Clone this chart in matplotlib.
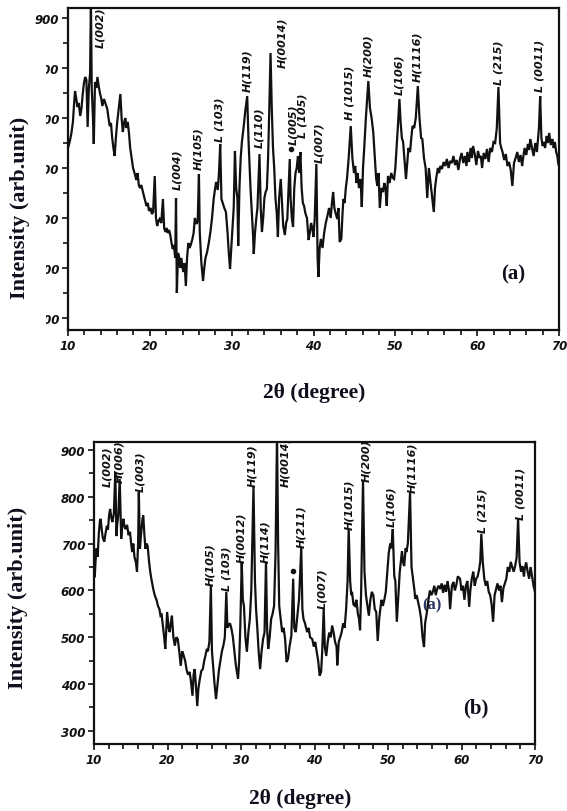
import matplotlib
matplotlib.use("Agg")
import matplotlib.pyplot as plt
from matplotlib.ticker import MultipleLocator, FixedLocator
from matplotlib.patches import Rectangle

# ---------------- panel (a) pattern ----------------
two_theta_a = [
    10.0, 10.2, 10.4, 10.6, 10.75, 10.86, 11.0, 11.15, 11.3, 11.5, 11.65, 11.8, 11.95,
    12.1, 12.25, 12.4, 12.55, 12.7, 12.8, 12.9, 13.05, 13.15, 13.3, 13.45, 13.6, 13.75,
    13.9, 14.05, 14.2, 14.4, 14.6, 14.8, 14.95, 15.1, 15.25, 15.4, 15.55, 15.7, 15.85,
    16.0, 16.2, 16.4, 16.55, 16.7, 16.85, 17.0, 17.15, 17.3, 17.45, 17.6, 17.8, 17.95,
    18.1, 18.2, 18.35, 18.5, 18.65, 18.8, 18.95, 19.1, 19.25, 19.4, 19.6, 19.75, 19.9,
    20.1, 20.25, 20.4, 20.6, 20.75, 20.9, 21.05, 21.2, 21.4, 21.6, 21.75, 21.9, 22.05,
    22.2, 22.35, 22.5, 22.65, 22.8, 22.95, 23.1, 23.2, 23.3, 23.45, 23.6, 23.7, 23.85,
    24.0, 24.1, 24.25, 24.4, 24.55, 24.7, 24.85, 25.0, 25.2, 25.35, 25.5, 25.7, 25.85,
    26.0, 26.1, 26.3, 26.5, 26.65, 26.8, 27.0, 27.2, 27.4, 27.6, 27.8, 27.95, 28.1,
    28.3, 28.45, 28.6, 28.75, 28.9, 29.1, 29.3, 29.5, 29.65, 29.8, 29.95, 30.1, 30.25,
    30.4, 30.55, 30.7, 30.8, 30.95, 31.1, 31.25, 31.45, 31.65, 31.9, 32.05, 32.15, 32.3,
    32.5, 32.6, 32.7, 32.85, 33.0, 33.15, 33.4, 33.55, 33.7, 33.85, 34.0, 34.15, 34.3,
    34.45, 34.6, 34.75, 34.9, 35.05, 35.2, 35.35, 35.5, 35.65, 35.8, 36.0, 36.15, 36.3,
    36.5, 36.65, 36.8, 36.95, 37.1, 37.2, 37.35, 37.5, 37.65, 37.8, 37.95, 38.1, 38.25,
    38.4, 38.55, 38.7, 38.85, 39.0, 39.2, 39.4, 39.55, 39.7, 39.85, 40.0, 40.15, 40.35,
    40.5, 40.6, 40.75, 40.9, 41.1, 41.3, 41.5, 41.7, 41.9, 42.1, 42.25, 42.4, 42.55,
    42.7, 42.9, 43.05, 43.2, 43.4, 43.55, 43.65, 43.8, 43.95, 44.1, 44.3, 44.55, 44.75,
    44.95, 45.1, 45.25, 45.4, 45.55, 45.75, 45.9, 46.05, 46.2, 46.4, 46.7, 46.9, 47.1,
    47.3, 47.5, 47.65, 47.8, 47.95, 48.1, 48.3, 48.5, 48.65, 48.8, 48.95, 49.1, 49.3,
    49.5, 49.7, 49.85, 50.0, 50.15, 50.3, 50.5, 50.65, 50.8, 50.95, 51.1, 51.3, 51.45,
    51.6, 51.8, 51.95, 52.1, 52.3, 52.5, 52.75, 52.95, 53.15, 53.3, 53.5, 53.7, 53.9,
    54.1, 54.3, 54.5, 54.7, 54.85, 55.0, 55.2, 55.35, 55.5, 55.7, 55.9, 56.1, 56.3,
    56.5, 56.7, 56.9, 57.1, 57.3, 57.5, 57.7, 57.9, 58.1, 58.3, 58.5, 58.7, 58.8,
    59.0, 59.2, 59.35, 59.5, 59.7, 59.9, 60.1, 60.3, 60.45, 60.6, 60.8, 61.0, 61.2,
    61.4, 61.6, 61.8, 62.0, 62.2, 62.4, 62.6, 62.8, 62.95, 63.1, 63.3, 63.5, 63.7,
    63.9, 64.1, 64.3, 64.5, 64.7, 64.9, 65.1, 65.3, 65.5, 65.6, 65.8, 66.0, 66.2,
    66.35, 66.5, 66.7, 66.9, 67.1, 67.3, 67.55, 67.7, 67.85, 68.0, 68.15, 68.3, 68.5,
    68.65, 68.8, 69.0, 69.2, 69.35, 69.5, 69.65, 69.8, 69.9, 70.0,
]
intensity_a = [
    640, 652, 668, 692, 730, 754, 740, 722, 730, 704, 720, 748, 770,
    782, 776, 682, 760, 790, 935, 760, 700, 648, 772, 760, 782, 764,
    750, 740, 724, 738, 728, 718, 700, 684, 690, 660, 640, 624, 660,
    690, 720, 748, 700, 672, 690, 700, 680, 692, 670, 640, 618, 600,
    592, 586, 576, 590, 566, 560, 566, 556, 546, 536, 524, 530, 514,
    520, 508, 512, 584, 500, 484, 494, 498, 490, 538, 480, 472, 480,
    470, 476, 466, 450, 438, 446, 420, 540, 350, 430, 420, 400, 420,
    400, 392, 410, 364, 420, 450, 440, 446, 458, 470, 500, 488, 494,
    588, 472, 410, 374, 400, 420, 432, 450, 472, 500, 538, 556, 572,
    556, 590, 648, 538, 530, 520, 512, 470, 430, 398, 440, 480, 520,
    634, 560, 540, 444, 560, 620, 652, 680, 712, 744, 660, 618, 560,
    498, 470, 428, 470, 498, 520, 628, 520, 472, 500, 540, 552, 558,
    620, 720, 830, 720, 640, 600, 540, 512, 462, 540, 578, 530, 484,
    466, 490, 498, 560, 618, 540, 500, 482, 560, 590, 600, 624, 590,
    632, 560, 530, 524, 510, 500, 456, 470, 490, 480, 462, 500, 608,
    420, 382, 440, 458, 440, 470, 490, 504, 520, 500, 530, 552, 520,
    510, 498, 520, 452, 458, 510, 538, 530, 560, 580, 620, 684, 620,
    590, 604, 570, 590, 560, 578, 522, 600, 640, 700, 774, 720, 700,
    672, 620, 580, 564, 590, 520, 560, 552, 570, 560, 524, 584, 570,
    590, 580, 578, 600, 640, 680, 738, 690, 660, 652, 620, 578, 610,
    640, 632, 660, 684, 680, 700, 764, 700, 660, 658, 620, 600, 540,
    600, 570, 540, 512, 560, 580, 600, 590, 604, 598, 612, 604, 618,
    600, 614, 610, 624, 606, 616, 596, 618, 630, 610, 624, 604, 632,
    612, 640, 620, 644, 628, 606, 634, 620, 624, 600, 630, 618, 638,
    612, 640, 632, 652, 650, 680, 762, 650, 640, 632, 616, 628, 604,
    612, 596, 564, 610, 620, 632, 612, 626, 604, 618, 640, 626, 648,
    636, 658, 640, 624, 650, 632, 680, 744, 660, 644, 652, 640, 664,
    650, 670, 646, 658, 640, 652, 632, 624, 610, 604,
]

# reflections of panel (a): text, 2-theta of label, intensity at label foot
labels_a = ["L(002)", "L(004)", "H(105)", "L (103)", "H(119)", "L(110)", "H(0014)",
            "L(005)", "L (105)", "L(007)", "H (1015)", "H(200)", "L(106)", "H(1116)",
            "L (215)", "L (0011)"]
label_x_a = [13.9, 23.3, 25.9, 28.5, 31.9, 33.35, 36.2, 37.5, 38.7, 40.7, 44.35,
             46.7, 50.5, 52.65, 62.6, 67.6]
label_y_a = [842, 558, 598, 654, 754, 642, 802, 648, 662, 612, 698, 784, 748, 774,
             768, 754]
dot_a = (37.3, 638)

# ---------------- panel (b) pattern ----------------
two_theta_b = [
    10.0, 10.1, 10.2, 10.35, 10.5, 10.65, 10.8, 10.9, 11.05, 11.2, 11.4, 11.55, 11.75,
    11.9, 12.05, 12.2, 12.35, 12.5, 12.7, 12.9, 13.05, 13.15, 13.3, 13.5, 13.7, 13.85,
    14.0, 14.15, 14.3, 14.5, 14.7, 14.9, 15.05, 15.2, 15.35, 15.5, 15.7, 15.85, 16.0,
    16.1, 16.25, 16.4, 16.6, 16.7, 16.85, 17.0, 17.15, 17.3, 17.5, 17.65, 17.8, 17.95,
    18.1, 18.3, 18.5, 18.7, 18.9, 19.05, 19.2, 19.4, 19.55, 19.7, 19.85, 19.95, 20.15,
    20.3, 20.45, 20.6, 20.8, 21.0, 21.2, 21.4, 21.6, 21.8, 22.0, 22.2, 22.4, 22.6,
    22.8, 23.0, 23.15, 23.3, 23.4, 23.55, 23.7, 23.85, 24.05, 24.2, 24.4, 24.6, 24.8,
    25.0, 25.15, 25.35, 25.5, 25.7, 25.9, 26.05, 26.2, 26.4, 26.6, 26.8, 27.0, 27.2,
    27.4, 27.6, 27.8, 28.0, 28.15, 28.3, 28.5, 28.7, 28.9, 29.1, 29.3, 29.5, 29.6,
    29.75, 29.9, 30.1, 30.25, 30.4, 30.6, 30.8, 31.0, 31.2, 31.4, 31.7, 31.9, 32.05,
    32.2, 32.4, 32.6, 32.8, 33.0, 33.2, 33.4, 33.55, 33.7, 33.9, 34.1, 34.3, 34.5,
    34.7, 34.9, 35.05, 35.2, 35.4, 35.6, 35.8, 36.0, 36.2, 36.4, 36.6, 36.85, 37.1,
    37.25, 37.45, 37.7, 37.9, 38.2, 38.35, 38.5, 38.7, 39.0, 39.2, 39.4, 39.7, 39.9,
    40.1, 40.3, 40.5, 40.7, 40.9, 41.05, 41.25, 41.4, 41.6, 41.8, 42.0, 42.2, 42.4,
    42.6, 42.8, 43.0, 43.1, 43.3, 43.5, 43.7, 43.9, 44.1, 44.3, 44.5, 44.65, 44.85,
    45.0, 45.1, 45.3, 45.5, 45.7, 45.9, 46.05, 46.2, 46.35, 46.6, 46.8, 47.0, 47.2,
    47.4, 47.6, 47.8, 48.0, 48.2, 48.4, 48.6, 48.8, 48.95, 49.1, 49.3, 49.5, 49.7,
    49.9, 50.1, 50.3, 50.45, 50.65, 50.85, 51.0, 51.2, 51.4, 51.6, 51.9, 52.05, 52.2,
    52.4, 52.5, 52.7, 53.0, 53.2, 53.4, 53.6, 53.7, 53.9, 54.1, 54.3, 54.5, 54.7,
    54.9, 55.05, 55.3, 55.5, 55.7, 55.9, 56.1, 56.3, 56.5, 56.7, 56.9, 57.1, 57.3,
    57.5, 57.7, 57.9, 58.1, 58.3, 58.45, 58.7, 58.9, 59.1, 59.3, 59.5, 59.8, 60.0,
    60.2, 60.4, 60.6, 60.8, 61.05, 61.2, 61.4, 61.6, 61.8, 62.0, 62.2, 62.4, 62.55,
    62.7, 62.9, 63.1, 63.3, 63.5, 63.7, 63.9, 64.1, 64.3, 64.5, 64.7, 64.9, 65.1,
    65.3, 65.5, 65.7, 65.9, 66.1, 66.3, 66.5, 66.7, 66.9, 67.1, 67.3, 67.5, 67.7,
    67.9, 68.1, 68.3, 68.5, 68.6, 68.8, 69.0, 69.2, 69.4, 69.6, 69.8, 70.0,
]
intensity_b = [
    640, 628, 660, 690, 672, 720, 748, 753, 730, 712, 704, 720, 738,
    730, 760, 774, 756, 746, 764, 853, 716, 740, 760, 838, 710, 740,
    753, 736, 731, 740, 718, 725, 700, 682, 700, 672, 660, 640, 700,
    810, 689, 720, 753, 760, 720, 689, 700, 695, 660, 640, 625, 612,
    600, 588, 580, 567, 560, 546, 548, 520, 500, 475, 520, 554, 520,
    511, 530, 546, 500, 482, 500, 496, 470, 439, 470, 461, 450, 430,
    420, 426, 411, 390, 375, 420, 432, 400, 353, 390, 411, 428, 432,
    450, 460, 475, 470, 490, 610, 470, 439, 400, 368, 400, 430, 450,
    470, 482, 500, 597, 520, 525, 530, 518, 500, 469, 440, 420, 411,
    450, 520, 661, 580, 567, 500, 469, 510, 539, 600, 823, 620, 560,
    525, 470, 432, 470, 496, 510, 661, 520, 475, 500, 539, 550, 567,
    680, 935, 700, 567, 540, 511, 520, 496, 447, 454, 480, 503, 625,
    520, 511, 550, 582, 692, 560, 539, 530, 511, 520, 500, 496, 480,
    490, 469, 450, 418, 426, 470, 561, 480, 460, 490, 510, 500, 525,
    510, 490, 480, 440, 490, 500, 511, 530, 520, 560, 620, 731, 620,
    590, 597, 570, 567, 580, 550, 540, 515, 600, 836, 640, 590, 567,
    546, 580, 597, 590, 560, 554, 492, 539, 560, 580, 567, 580, 597,
    640, 680, 700, 690, 731, 631, 620, 533, 588, 640, 684, 660, 652,
    690, 682, 700, 810, 650, 625, 600, 582, 590, 575, 560, 540, 500,
    479, 530, 554, 580, 600, 590, 597, 610, 590, 604, 610, 603, 615,
    595, 612, 597, 620, 600, 560, 610, 618, 600, 612, 630, 625, 600,
    610, 580, 610, 620, 565, 600, 625, 640, 610, 625, 630, 645, 661,
    721, 660, 625, 610, 620, 597, 590, 570, 533, 590, 603, 615, 600,
    610, 575, 605, 615, 625, 650, 640, 661, 650, 640, 652, 670, 753,
    660, 640, 652, 630, 646, 660, 640, 625, 650, 630, 610, 597,
]

labels_b = ["L(002)", "H(006)", "L(003)", "H(105)", "L (103)", "H(0012)", "H(119)",
            "H(114)", "H(0014)", "H(211)", "L(007)", "H(1015)", "H(200)", "L(106)",
            "H(1116)", "L (215)", "L (0011)"]
label_x_b = [11.8, 13.4, 16.3, 25.8, 28.0, 30.0, 31.6, 33.3, 36.0, 38.2, 41.0, 44.7,
             47.1, 50.5, 53.3, 62.9, 68.0]
label_y_b = [823, 832, 812, 612, 600, 661, 823, 661, 823, 692, 563, 731, 834, 738,
             810, 725, 753]
dot_b = (37.1, 642)

x_ticks = [10, 20, 30, 40, 50, 60, 70]
y_ticks = [300, 400, 500, 600, 700, 800, 900]

# ---------------- figure ----------------
W, H = 567, 812
fig = plt.figure(figsize=(W / 100, H / 100), dpi=100)
fig.patch.set_facecolor("white")

TXT = "#0e0e1c"
serif = ["Liberation Serif", "DejaVu Serif"]
tick_font = dict(family="DejaVu Sans", style="italic", weight="bold", size=8.5)
peak_font = dict(family="DejaVu Sans", style="italic", weight="semibold", size=8)


def box(left, top, right, bottom):
    return [left / W, 1 - bottom / H, (right - left) / W, (bottom - top) / H]


def style_axes(ax, ylim):
    ax.set_xlim(10, 70)
    ax.set_ylim(*ylim)
    ax.xaxis.set_major_locator(FixedLocator(x_ticks))
    ax.xaxis.set_minor_locator(MultipleLocator(2))
    ax.yaxis.set_major_locator(FixedLocator(y_ticks))
    ax.yaxis.set_minor_locator(MultipleLocator(50))
    ax.set_xticklabels([str(v) for v in x_ticks], fontdict=tick_font)
    ax.set_yticklabels([str(v) for v in y_ticks], fontdict=tick_font)
    ax.tick_params(which="both", direction="out", width=1.2, colors="#111111")
    ax.tick_params(which="major", length=4.5, pad=2)
    ax.tick_params(which="minor", length=3.5)
    for s in ax.spines.values():
        s.set_linewidth(1.6)
        s.set_color("#111111")


def draw_panel(ax, tt, inten, labels, lx, ly, dot):
    ax.plot(tt, inten, color="#111111", lw=1.6, solid_joinstyle="miter", zorder=3)
    for t, x, y in zip(labels, lx, ly):
        ax.text(x, y, t, rotation=90, ha="center", va="bottom", color="#111111",
                clip_on=True, zorder=4, **peak_font)
    ax.plot([dot[0]], [dot[1]], "o", ms=3, color="#111111", zorder=4)


ax_a = fig.add_axes(box(68, 9, 559, 331))
style_axes(ax_a, (276, 920))
draw_panel(ax_a, two_theta_a, intensity_a, labels_a, label_x_a, label_y_a, dot_a)

ax_b = fig.add_axes(box(94, 443, 535, 745))
style_axes(ax_b, (272, 917))
draw_panel(ax_b, two_theta_b, intensity_b, labels_b, label_x_b, label_y_b, dot_b)

# paste-over strip that hides the left part of panel (a) tick numbers
fig.add_artist(Rectangle((0, 1 - 332 / H), 46 / W, (332 - 34) / H,
                         transform=fig.transFigure, facecolor="white",
                         edgecolor="none", zorder=5))

# axis titles and panel tags
fig.text(20 / W, 1 - 208 / H, "Intensity (arb.unit)", rotation=90, ha="center",
         va="center", family=serif, weight="bold", size=16, color=TXT, zorder=6)
fig.text(314 / W, 1 - 393 / H, "2θ (degree)", ha="center", va="center",
         family=serif, weight="bold", size=15.5, color=TXT, zorder=6)
fig.text(513 / W, 1 - 274 / H, "(a)", ha="center", va="center",
         family=serif, weight="bold", size=15, color=TXT, zorder=6)

fig.text(18 / W, 1 - 598 / H, "Intensity (arb.unit)", rotation=90, ha="center",
         va="center", family=serif, weight="bold", size=16, color=TXT, zorder=6)
fig.text(300 / W, 1 - 799 / H, "2θ (degree)", ha="center", va="center",
         family=serif, weight="bold", size=15.5, color=TXT, zorder=6)
fig.text(476 / W, 1 - 708 / H, "(b)", ha="center", va="center",
         family=serif, weight="bold", size=15, color=TXT, zorder=6)
ax_b.text(432 / W, 1 - 605 / H, "(a)", transform=fig.transFigure, ha="center",
          va="center", family=serif, weight="bold", size=12, color="#2a3560",
          zorder=1)

fig.savefig("out.png", dpi=100, facecolor="white")
